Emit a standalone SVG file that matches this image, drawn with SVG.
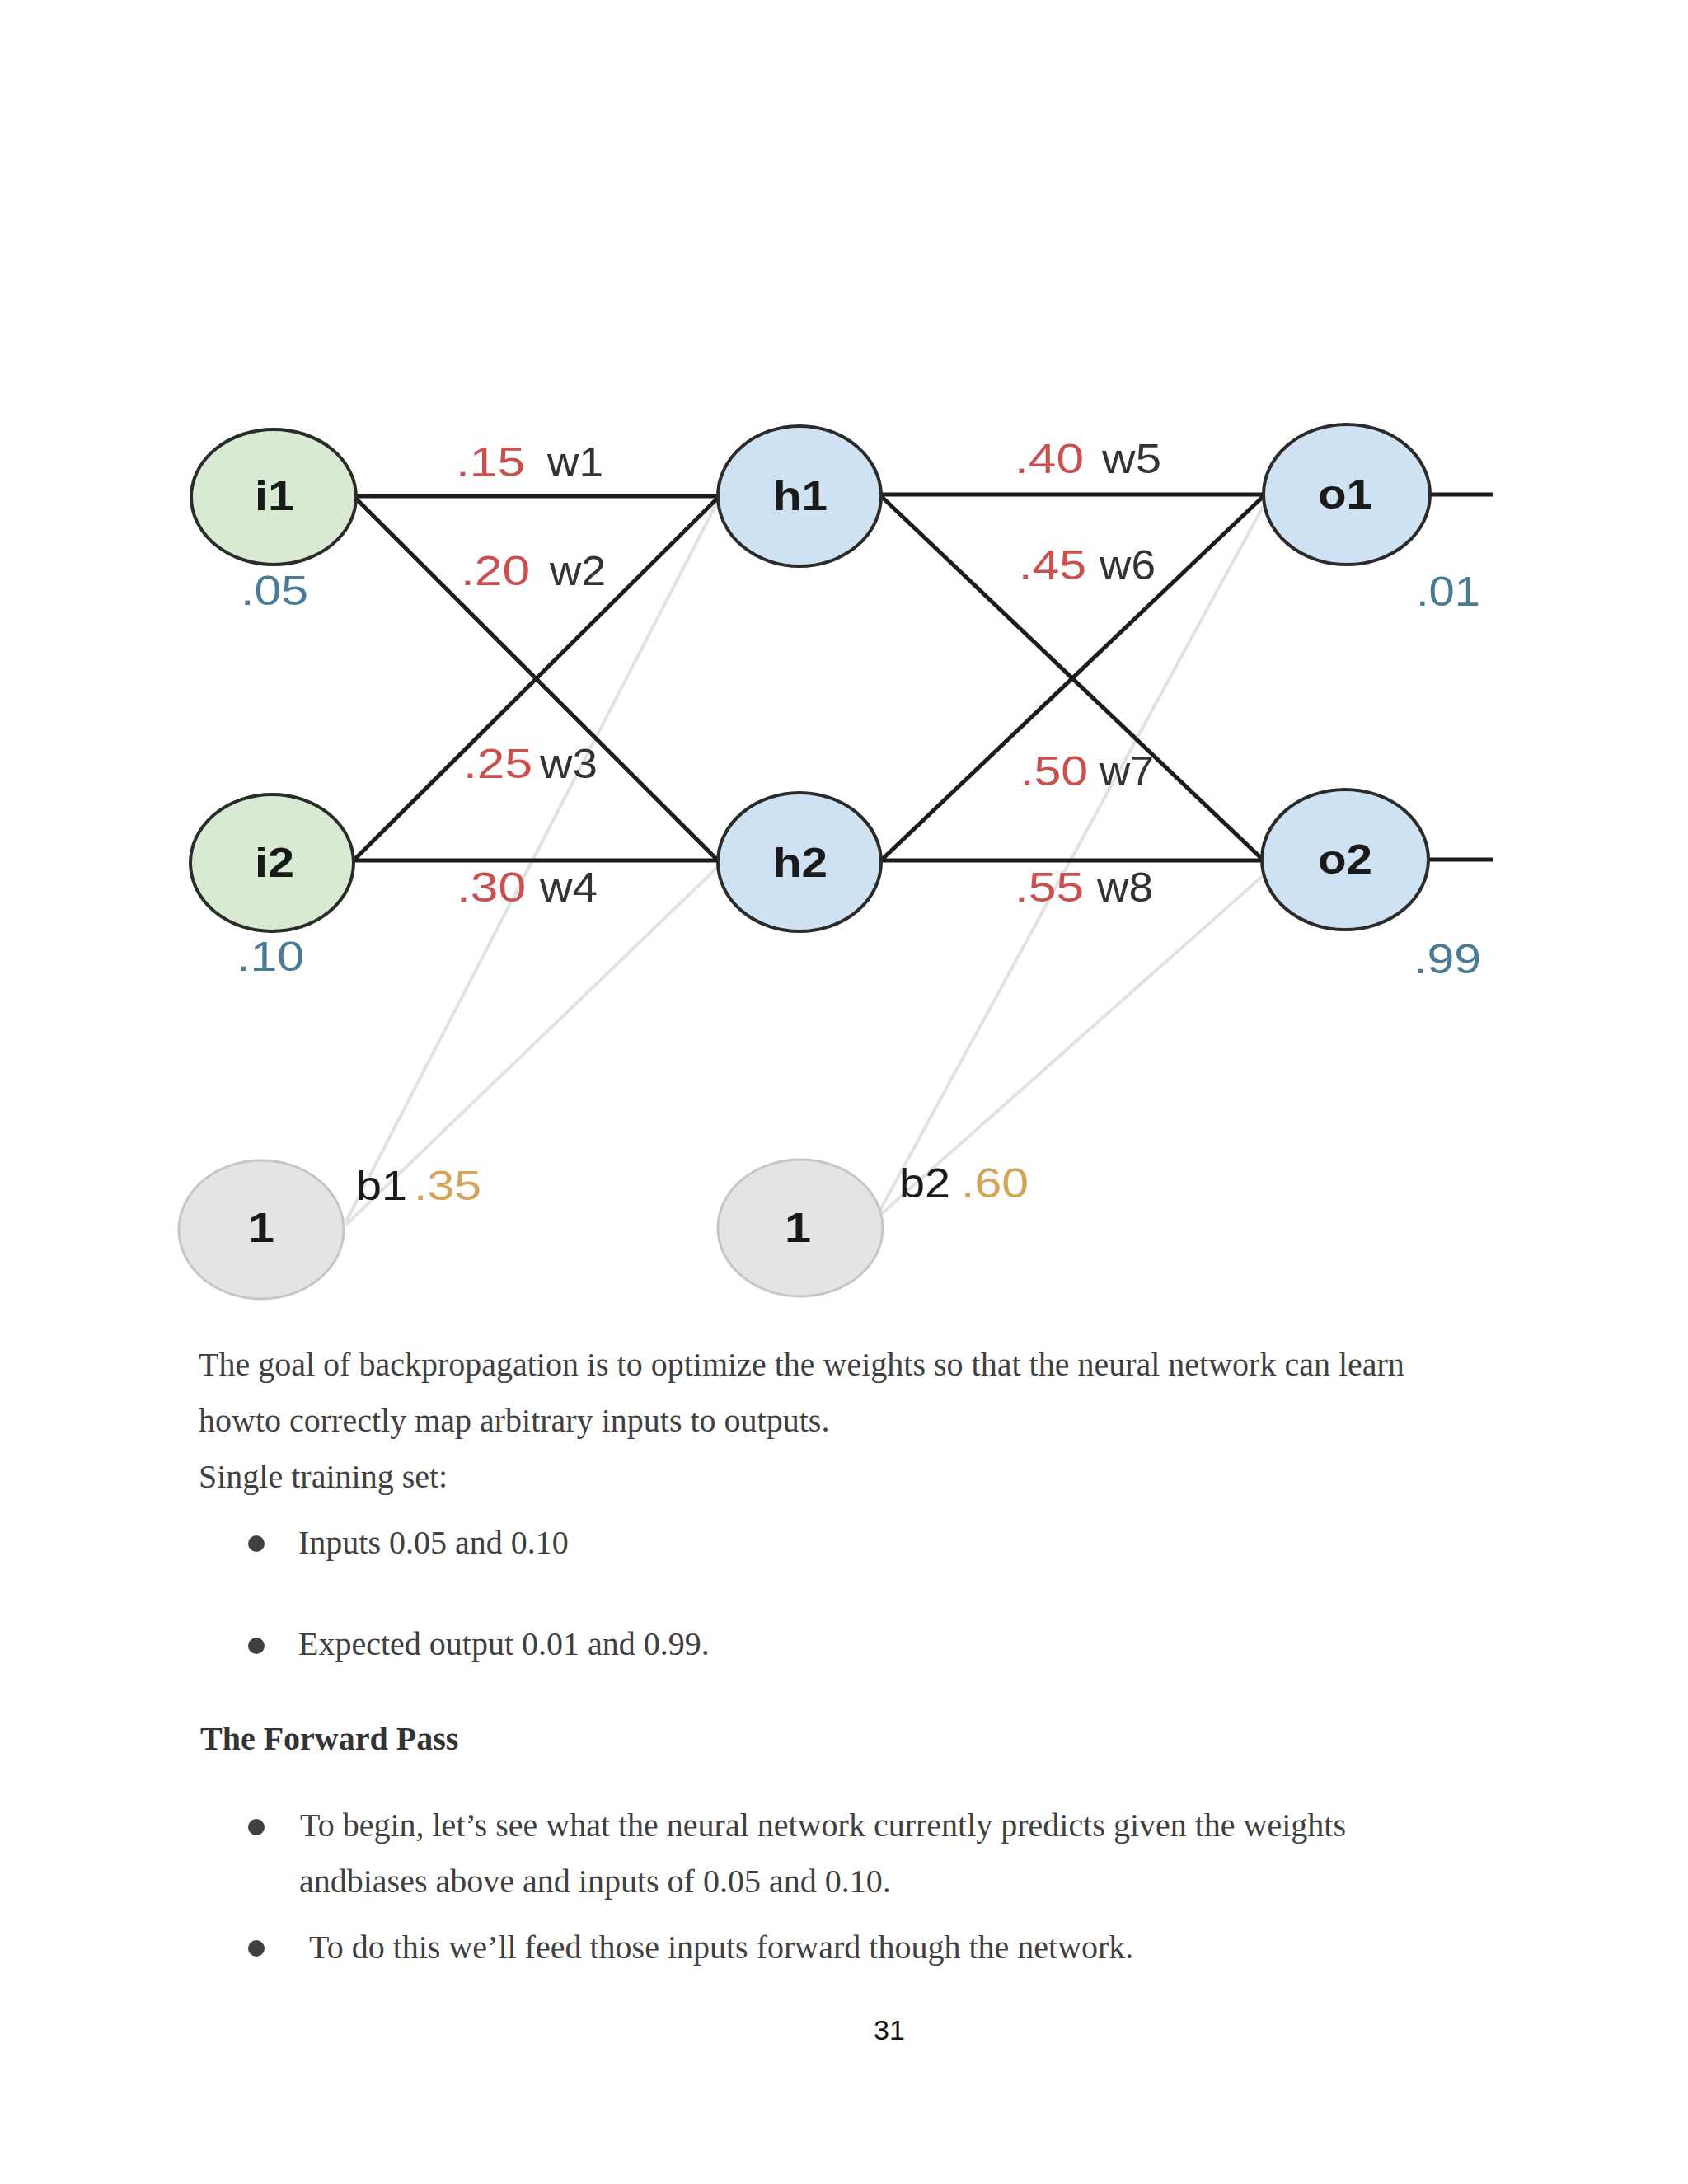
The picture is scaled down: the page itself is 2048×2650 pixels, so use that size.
<svg xmlns="http://www.w3.org/2000/svg" width="2048" height="2650" viewBox="0 0 2048 2650">
<style>
.in{fill:#d9ead3;stroke:#2b2b2b;stroke-width:4}
.hid{fill:#cfe2f3;stroke:#2b2b2b;stroke-width:4}
.bias{fill:#e4e4e4;stroke:#c6c6c6;stroke-width:3}
.nl{font-family:"Liberation Sans",Arial,sans-serif;font-weight:bold;font-size:50px;fill:#1a1a1a;text-anchor:middle}
.lab{font-family:"Liberation Sans",Arial,sans-serif;font-size:50px}
.wv{fill:#c9504f}
.wn{fill:#333333}
.val{fill:#4a7b96}
.bv{fill:#d4a35a}
.bn{fill:#1a1a1a}
.edge{stroke:#1c1c1c;stroke-width:5;fill:none}
.ghost{stroke:#e2e2e2;stroke-width:4;fill:none}
.body{font-family:"Liberation Serif","Times New Roman",serif;font-size:40px;fill:#404040}
.bold{font-weight:bold;fill:#333333}
.dot{fill:#404040}
</style>
<rect x="0" y="0" width="2048" height="2650" fill="#ffffff"/>
<g id="connectors">
<line class="ghost" x1="420" y1="1482" x2="872" y2="606"/>
<line class="ghost" x1="420" y1="1486" x2="873" y2="1050"/>
<line class="ghost" x1="1068" y1="1468" x2="1536" y2="608"/>
<line class="ghost" x1="1068" y1="1474" x2="1542" y2="1054"/>
<line class="edge" x1="432" y1="602" x2="871" y2="602"/>
<line class="edge" x1="432" y1="605" x2="871" y2="1044"/>
<line class="edge" x1="431" y1="1042" x2="871" y2="604"/>
<line class="edge" x1="430" y1="1044" x2="871" y2="1044"/>
<line class="edge" x1="1070" y1="600" x2="1533" y2="600"/>
<line class="edge" x1="1070" y1="603" x2="1531" y2="1042"/>
<line class="edge" x1="1071" y1="1042" x2="1533" y2="602"/>
<line class="edge" x1="1070" y1="1044" x2="1531" y2="1044"/>
<line class="edge" x1="1735" y1="600" x2="1812" y2="600"/>
<line class="edge" x1="1732" y1="1043" x2="1812" y2="1043"/>
</g>
<g id="node-i1"><ellipse class="in" cx="332" cy="603" rx="100" ry="82"/><text class="nl" x="333" y="619" textLength="48" lengthAdjust="spacingAndGlyphs">i1</text></g>
<g id="node-i2"><ellipse class="in" cx="330" cy="1047" rx="99" ry="83"/><text class="nl" x="333" y="1064" textLength="48" lengthAdjust="spacingAndGlyphs">i2</text></g>
<g id="node-h1"><ellipse class="hid" cx="970" cy="602" rx="99" ry="85"/><text class="nl" x="971" y="619" textLength="66" lengthAdjust="spacingAndGlyphs">h1</text></g>
<g id="node-h2"><ellipse class="hid" cx="970" cy="1046" rx="99" ry="84"/><text class="nl" x="971" y="1064" textLength="66" lengthAdjust="spacingAndGlyphs">h2</text></g>
<g id="node-o1"><ellipse class="hid" cx="1634" cy="600" rx="101" ry="85"/><text class="nl" x="1632" y="617" textLength="66" lengthAdjust="spacingAndGlyphs">o1</text></g>
<g id="node-o2"><ellipse class="hid" cx="1632" cy="1043" rx="101" ry="85"/><text class="nl" x="1632" y="1060" textLength="66" lengthAdjust="spacingAndGlyphs">o2</text></g>
<g id="node-b1"><ellipse class="bias" cx="317" cy="1492" rx="100" ry="84"/><text class="nl" x="317" y="1507" textLength="32" lengthAdjust="spacingAndGlyphs">1</text></g>
<g id="node-b2"><ellipse class="bias" cx="971" cy="1490" rx="100" ry="83"/><text class="nl" x="968" y="1507" textLength="32" lengthAdjust="spacingAndGlyphs">1</text></g>
<g id="labels">
<text class="lab wv" x="553" y="578" textLength="84" lengthAdjust="spacingAndGlyphs">.15</text><text class="lab wn" x="664" y="578" textLength="68" lengthAdjust="spacingAndGlyphs">w1</text>
<text class="lab wv" x="559" y="710" textLength="84" lengthAdjust="spacingAndGlyphs">.20</text><text class="lab wn" x="667" y="710" textLength="68" lengthAdjust="spacingAndGlyphs">w2</text>
<text class="lab wv" x="562" y="944" textLength="84" lengthAdjust="spacingAndGlyphs">.25</text><text class="lab wn" x="655" y="944" textLength="70" lengthAdjust="spacingAndGlyphs">w3</text>
<text class="lab wv" x="554" y="1094" textLength="84" lengthAdjust="spacingAndGlyphs">.30</text><text class="lab wn" x="655" y="1094" textLength="70" lengthAdjust="spacingAndGlyphs">w4</text>
<text class="lab wv" x="1231" y="574" textLength="84" lengthAdjust="spacingAndGlyphs">.40</text><text class="lab wn" x="1337" y="574" textLength="72" lengthAdjust="spacingAndGlyphs">w5</text>
<text class="lab wv" x="1236" y="703" textLength="82" lengthAdjust="spacingAndGlyphs">.45</text><text class="lab wn" x="1334" y="703" textLength="68" lengthAdjust="spacingAndGlyphs">w6</text>
<text class="lab wv" x="1238" y="953" textLength="82" lengthAdjust="spacingAndGlyphs">.50</text><text class="lab wn" x="1334" y="953" textLength="66" lengthAdjust="spacingAndGlyphs">w7</text>
<text class="lab wv" x="1231" y="1094" textLength="84" lengthAdjust="spacingAndGlyphs">.55</text><text class="lab wn" x="1331" y="1094" textLength="68" lengthAdjust="spacingAndGlyphs">w8</text>
<text class="lab val" x="292" y="734" textLength="82" lengthAdjust="spacingAndGlyphs">.05</text>
<text class="lab val" x="287" y="1178" textLength="82" lengthAdjust="spacingAndGlyphs">.10</text>
<text class="lab val" x="1718" y="735" textLength="78" lengthAdjust="spacingAndGlyphs">.01</text>
<text class="lab val" x="1715" y="1181" textLength="82" lengthAdjust="spacingAndGlyphs">.99</text>
<text class="lab bn" x="432" y="1456" textLength="62" lengthAdjust="spacingAndGlyphs">b1</text><text class="lab bv" x="502" y="1456" textLength="82" lengthAdjust="spacingAndGlyphs">.35</text>
<text class="lab bn" x="1091" y="1453" textLength="62" lengthAdjust="spacingAndGlyphs">b2</text><text class="lab bv" x="1166" y="1453" textLength="82" lengthAdjust="spacingAndGlyphs">.60</text>
</g>
<g id="text">
<text class="body" x="241" y="1669">The goal of backpropagation is to optimize the weights so that the neural network can learn</text>
<text class="body" x="241" y="1737">howto correctly map arbitrary inputs to outputs.</text>
<text class="body" x="241" y="1805">Single training set:</text>
<circle class="dot" cx="311" cy="1873" r="10"/>
<text class="body" x="362" y="1885">Inputs 0.05 and 0.10</text>
<circle class="dot" cx="311" cy="1997" r="10"/>
<text class="body" x="362" y="2008">Expected output 0.01 and 0.99.</text>
<text class="body bold" x="243" y="2123">The Forward Pass</text>
<circle class="dot" cx="311" cy="2217" r="10"/>
<text class="body" x="364" y="2228">To begin, let’s see what the neural network currently predicts given the weights</text>
<text class="body" x="363" y="2296">andbiases above and inputs of 0.05 and 0.10.</text>
<circle class="dot" cx="311" cy="2364" r="10"/>
<text class="body" x="375" y="2376">To do this we’ll feed those inputs forward though the network.</text>
<text x="1079" y="2475" font-family="'Liberation Sans',Arial,sans-serif" font-size="34" fill="#111111" text-anchor="middle">31</text>
</g>
</svg>
